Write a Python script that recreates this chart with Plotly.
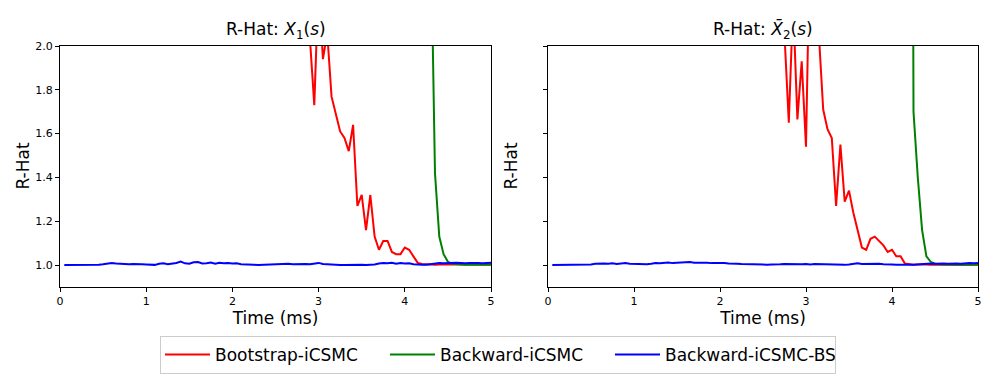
import plotly.graph_objects as go
from plotly.subplots import make_subplots

# time grid (ms)
time_ms = [round(0.05 * k, 2) for k in range(1, 101)]

# ---- left panel: X_1(s)
bootstrap_x1 = [
    28.4, 25.1, 22.7, 19.8, 18.2, 16.5, 15.1, 14.0, 12.9, 11.8,
    11.2, 10.4, 9.7, 9.1, 8.6, 8.0, 7.6, 7.1, 6.8, 6.4,
    6.1, 5.8, 5.5, 5.2, 5.0, 4.8, 4.5, 4.4, 4.2, 4.0,
    3.9, 3.7, 3.6, 3.5, 3.4, 3.3, 3.2, 3.1, 3.0, 2.95,
    2.9, 2.8, 2.75, 2.7, 2.6, 2.55, 2.5, 2.45, 2.4, 2.4,
    2.35, 2.3, 2.3, 2.25, 2.2, 2.2, 2.15,
    2.03, 1.73, 2.3, 1.94, 2.06, 1.77, 1.69, 1.61, 1.58, 1.52,
    1.64, 1.27, 1.32, 1.16, 1.32, 1.13, 1.07, 1.11, 1.11, 1.06,
    1.05, 1.05, 1.08, 1.07, 1.04, 1.01, 1.005,
    1.003, 1.004, 1.002, 1.003, 1.005, 1.004, 1.003, 1.002,
    1.003, 1.004, 1.003, 1.002, 1.003, 1.004, 1.003, 1.003,
]
backward_x1 = [
    64.0, 58.2, 53.5, 49.1, 45.3, 41.8, 38.9, 36.2, 33.7, 31.5,
    29.6, 27.8, 26.1, 24.6, 23.3, 22.0, 20.8, 19.7, 18.7, 17.8,
    16.9, 16.1, 15.3, 14.6, 13.9, 13.3, 12.7, 12.1, 11.6, 11.1,
    10.6, 10.2, 9.8, 9.4, 9.0, 8.7, 8.3, 8.0, 7.7, 7.4,
    7.1, 6.9, 6.6, 6.4, 6.2, 6.0, 5.8, 5.6, 5.4, 5.2,
    5.1, 4.9, 4.8, 4.6, 4.5, 4.4, 4.2, 4.1, 4.0, 3.9,
    3.8, 3.7, 3.6, 3.5, 3.45, 3.4, 3.3, 3.25, 3.2, 3.1,
    3.05, 3.0, 2.95, 2.9, 2.85, 2.8, 2.78, 2.75, 2.72, 2.7,
    2.68, 2.66, 2.64, 2.62, 2.6, 2.58,
    1.42, 1.13, 1.05, 1.015, 1.006, 1.004, 1.003, 1.002,
    1.003, 1.002, 1.003, 1.002, 1.003, 1.002,
]
backward_bs_x1 = [
    1.000, 1.000, 1.001, 1.000, 1.000, 1.001, 1.000, 1.001, 1.002, 1.004,
    1.008, 1.010, 1.007, 1.005, 1.006, 1.004, 1.005, 1.003, 1.004, 1.003,
    1.002, 1.001, 1.006, 1.008, 1.004, 1.006, 1.010, 1.016, 1.008, 1.006,
    1.013, 1.014, 1.007, 1.008, 1.012, 1.006, 1.011, 1.008, 1.010, 1.007,
    1.008, 1.004, 1.002, 1.000, 1.001, 1.000, 1.001, 1.000, 1.001, 1.002,
    1.002, 1.003, 1.006, 1.004, 1.005, 1.006, 1.005, 1.004, 1.007, 1.010,
    1.005, 1.003, 1.004, 1.002, 1.000, 1.000, 1.001, 1.000, 1.000, 1.001,
    1.000, 1.001, 1.003, 1.007, 1.010, 1.008, 1.011, 1.006, 1.009, 1.007,
    1.008, 1.004, 1.002, 1.001, 1.002, 1.005, 1.009, 1.010, 1.008, 1.010,
    1.009, 1.011, 1.010, 1.008, 1.010, 1.011, 1.009, 1.008, 1.010, 1.011,
]

# ---- right panel: X-bar_2(s)
bootstrap_x2 = [
    31.0, 27.5, 24.2, 21.9, 19.6, 17.8, 16.2, 14.9, 13.7, 12.6,
    11.7, 10.9, 10.1, 9.5, 8.9, 8.3, 7.8, 7.4, 7.0, 6.6,
    6.3, 6.0, 5.7, 5.4, 5.2, 4.9, 4.7, 4.5, 4.3, 4.2,
    4.0, 3.9, 3.7, 3.6, 3.5, 3.4, 3.3, 3.2, 3.1, 3.0,
    2.95, 2.9, 2.8, 2.75, 2.7, 2.65, 2.6, 2.55, 2.5, 2.45,
    2.4, 2.38, 2.35, 2.3,
    2.05, 1.65, 2.2, 1.665, 1.93, 1.54, 2.6, 2.9, 2.05, 1.71,
    1.62, 1.58, 1.27, 1.55, 1.29, 1.34, 1.24, 1.16, 1.08, 1.07,
    1.12, 1.13, 1.11, 1.09, 1.06, 1.07, 1.04, 1.04, 1.007,
    1.003, 1.002, 1.003, 1.004, 1.003, 1.002, 1.003, 1.004, 1.003,
    1.002, 1.003, 1.003, 1.004, 1.003, 1.002, 1.003, 1.003,
]
backward_x2 = [
    71.0, 65.3, 60.1, 55.6, 51.4, 47.8, 44.5, 41.6, 39.0, 36.7,
    34.6, 32.7, 31.0, 29.4, 27.9, 26.6, 25.4, 24.2, 23.1, 22.1,
    21.2, 20.3, 19.5, 18.7, 18.0, 17.3, 16.7, 16.1, 15.5, 15.0,
    14.5, 14.0, 13.6, 13.2, 12.8, 12.4, 12.0, 11.7, 11.4, 11.1,
    10.8, 10.5, 10.3, 10.0, 9.8, 9.6, 9.4, 9.2, 9.0, 8.9,
    8.7, 8.6, 8.5, 8.4, 8.3, 8.2, 8.1, 8.0, 7.9, 7.9,
    7.8, 7.8, 7.7, 7.7, 7.6, 7.6, 7.6, 7.5, 7.5, 7.5,
    7.5, 7.6, 7.6, 7.7, 7.7, 7.8, 7.8, 7.9, 7.9, 8.0,
    8.0, 8.0, 8.0, 8.0,
    1.70, 1.40, 1.16, 1.04, 1.015,
    1.006, 1.004, 1.003, 1.002, 1.003, 1.002, 1.003, 1.002, 1.002, 1.003, 1.002,
]
backward_bs_x2 = [
    1.000, 1.000, 1.000, 1.001, 1.000, 1.000, 1.001, 1.001, 1.002, 1.003,
    1.006, 1.008, 1.007, 1.006, 1.008, 1.005, 1.007, 1.009, 1.006, 1.005,
    1.004, 1.003, 1.004, 1.006, 1.009, 1.008, 1.010, 1.012, 1.009, 1.011,
    1.013, 1.012, 1.014, 1.011, 1.012, 1.010, 1.011, 1.009, 1.010, 1.008,
    1.009, 1.007, 1.008, 1.006, 1.005, 1.004, 1.003, 1.002, 1.003, 1.001,
    1.002, 1.003, 1.005, 1.004, 1.005, 1.004, 1.006, 1.005, 1.004, 1.005,
    1.003, 1.005, 1.004, 1.006, 1.004, 1.002, 1.001, 1.000, 1.001, 1.003,
    1.006, 1.008, 1.005, 1.006, 1.007, 1.005, 1.006, 1.004, 1.005, 1.003,
    1.002, 1.001, 1.000, 1.001, 1.002, 1.004, 1.005, 1.006, 1.007, 1.006,
    1.008, 1.007, 1.006, 1.008, 1.007, 1.006, 1.008, 1.009, 1.008, 1.010,
]

SERIES_NAMES = ["Bootstrap-iCSMC", "Backward-iCSMC", "Backward-iCSMC-BS"]
COLORS = ["#ff0000", "#008000", "#0000ff"]
FONT = "DejaVu Sans, Liberation Sans, sans-serif"

# the page body adds 8px around the figure, so the figure is 8px smaller
OFF = 8
W, H = 997 - OFF, 383 - OFF
# plot region in pixels (both panels together)
ML, MR, MT, MB = 60 - OFF, 19, 46 - OFF, 96
PW = W - ML - MR

fig = make_subplots(rows=1, cols=2, shared_yaxes=True)

panels = [
    (1, [bootstrap_x1, backward_x1, backward_bs_x1]),
    (2, [bootstrap_x2, backward_x2, backward_bs_x2]),
]
for col, series in panels:
    for name, color, ys in zip(SERIES_NAMES, COLORS, series):
        fig.add_trace(
            go.Scatter(
                x=time_ms,
                y=ys,
                name=name,
                mode="lines",
                line=dict(color=color, width=2),
                showlegend=(col == 1),
                legendgroup=name,
            ),
            row=1, col=col,
        )

left_x = (0, 431 / PW)
right_x = (488 / PW, 1)

axis_style = dict(
    showline=True,
    mirror=True,
    linecolor="black",
    linewidth=1,
    showgrid=False,
    zeroline=False,
    ticks="outside",
    ticklen=4,
    tickcolor="black",
    tickfont=dict(family=FONT, size=11, color="black"),
    automargin=False,
)

fig.update_xaxes(
    range=[0, 5],
    tickvals=[0, 1, 2, 3, 4, 5],
    title_text="Time (ms)",
    title_font=dict(family=FONT, size=17, color="black"),
    title_standoff=4,
    **axis_style,
)
fig.update_yaxes(
    range=[0.9, 2.0],
    tickvals=[1.0, 1.2, 1.4, 1.6, 1.8, 2.0],
    tickformat=".1f",
    **axis_style,
)
fig.update_layout(
    xaxis=dict(domain=left_x),
    xaxis2=dict(domain=right_x),
    yaxis=dict(domain=[0, 1]),
    yaxis2=dict(domain=[0, 1], showticklabels=False),
)

# panel titles and y labels
titles = ["R-Hat: <i>X</i><sub>1</sub>(<i>s</i>)", "R-Hat: <i>X\u0304</i><sub>2</sub>(<i>s</i>)"]
for dom, title in zip([left_x, right_x], titles):
    fig.add_annotation(
        x=(dom[0] + dom[1]) / 2, y=1, xref="paper", yref="paper",
        text=title, showarrow=False, xanchor="center", yanchor="bottom", yshift=2,
        font=dict(family=FONT, size=17, color="black"),
    )
    fig.add_annotation(
        x=dom[0] - 38 / PW, y=0.5, xref="paper", yref="paper",
        text="R-Hat", textangle=-90, showarrow=False, xanchor="center", yanchor="middle",
        font=dict(family=FONT, size=17, color="black"),
    )

fig.update_layout(
    width=W,
    height=H,
    margin=dict(l=ML, r=MR, t=MT, b=MB),
    paper_bgcolor="white",
    plot_bgcolor="white",
    font=dict(family=FONT, color="black"),
    legend=dict(
        orientation="h",
        xref="container",
        yref="container",
        x=(498 - OFF) / W,
        xanchor="center",
        y=1 - (336 - OFF) / H,
        yanchor="top",
        bordercolor="#cccccc",
        borderwidth=1,
        bgcolor="white",
        font=dict(family=FONT, size=17, color="black"),
        itemwidth=45,
        entrywidth=165,
    ),
)

fig.write_html("out.html")
